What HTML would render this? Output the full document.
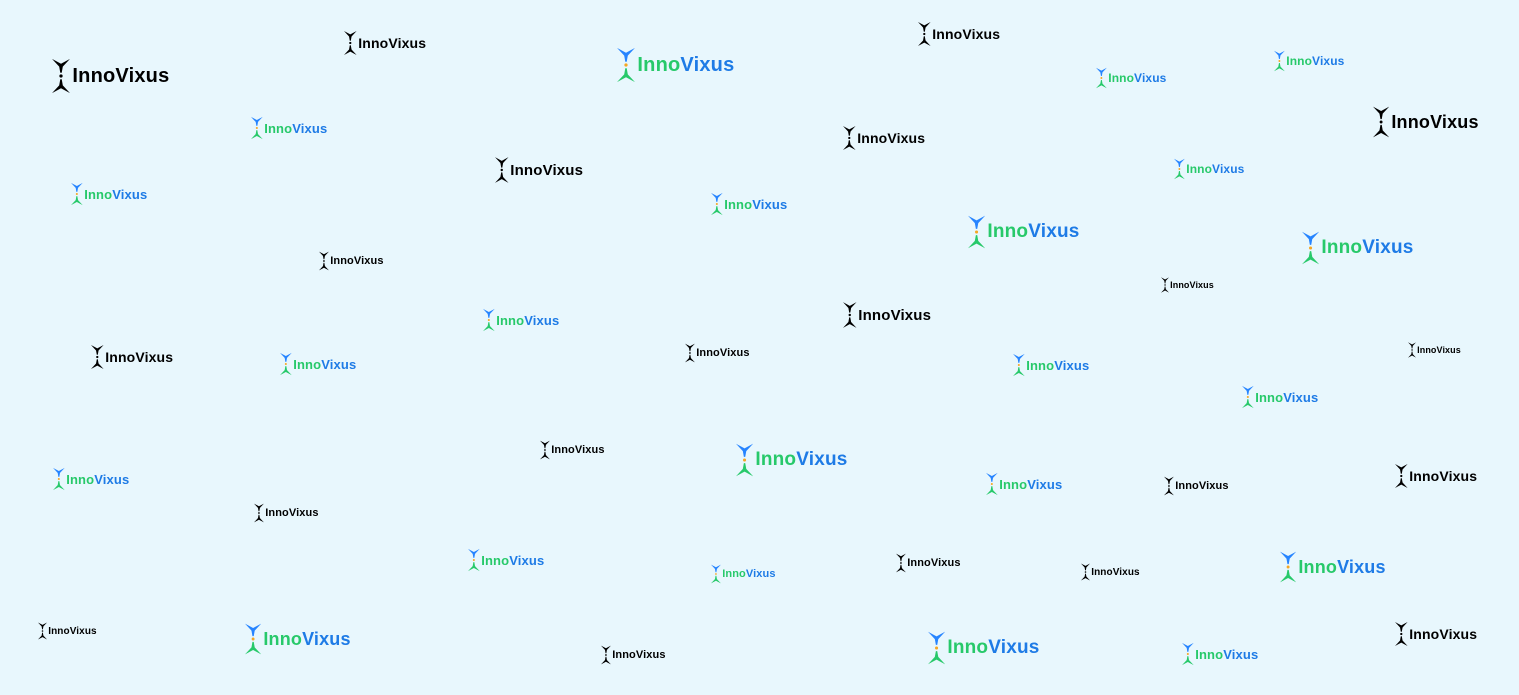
<!DOCTYPE html>
<html><head><meta charset="utf-8">
<style>
html,body{margin:0;padding:0;width:1519px;height:695px;overflow:hidden;background:#e8f7fd;}
.logo{position:absolute;display:flex;align-items:center;font-family:"Liberation Sans",sans-serif;font-weight:bold;letter-spacing:0.01em;white-space:nowrap;}
.logo svg{display:block;flex:none;}
.g{color:#27c96a}.b{color:#1e7be6}.k{color:#000}
</style></head>
<body>
<script>
// [iconX, textCenterY, fontSize, colored(1)/black(0)]
const logos=[
[52,75,20,0],[344,42,14,0],[617,64,20,1],[918,33,14,0],[1096,77,12,1],[1274,60,12,1],
[1373,121,18,0],[251,127,13,1],[495,169,15,0],[843,137,14,0],[71,193,13,1],[711,203,13,1],
[1174,168,12,1],[968,231,19,1],[1302,247,19,1],[319,260,11,0],[1161,284,9,0],[843,314,15,0],
[483,319,13,1],[91,356,14,0],[685,352,11,0],[280,363,13,1],[1013,364,13,1],[1408,349,9,0],
[1242,396,13,1],[53,478,13,1],[540,449,11,0],[736,459,19,1],[986,483,13,1],[1164,485,11,0],
[1395,475,14,0],[254,512,11,0],[468,559,13,1],[711,573,11,1],[896,562,11,0],[1081,571,10,0],
[1280,566,18,1],[38,630,10,0],[245,638,18,1],[601,654,11,0],[928,647,19,1],[1182,653,13,1],[1395,633,14,0]
];
logos.forEach(function(l,i){
  const x=l[0],y=l[1]+1,fs=l[2],c=l[3];
  const d=document.createElement('div');
  d.className='logo';
  
  
  const h=fs*2, w=fs*0.9;
  d.style.left=x+'px'; d.style.top=(y-h/2)+'px'; d.style.height=h+'px'; d.style.fontSize=fs+'px';
  const top=c?'#2684ff':'#000', bot=c?'#27c96a':'#000', dot=c?'#f5a623':'#000';
  d.innerHTML='<svg width="'+w+'" height="'+h+'" viewBox="0 0 10 20" style="margin-right:'+(fs*0.12)+'px">'+
   '<path d="M0,0.5 L5,3.2 L10,0.5 L6,4.8 L5.4,8.2 L4.6,8.2 L4,4.8 Z" fill="'+top+'"/>'+
   '<circle cx="5" cy="10" r="0.9" fill="'+dot+'"/>'+
   '<path d="M0,19.5 L5,16.8 L10,19.5 L6,15.2 L5.4,11.8 L4.6,11.8 L4,15.2 Z" fill="'+bot+'"/></svg>'+
   '<span class="'+(c?'g':'k')+'">Inno</span><span class="'+(c?'b':'k')+'">Vixus</span>';
  document.body.appendChild(d);
});
</script>
</body></html>
